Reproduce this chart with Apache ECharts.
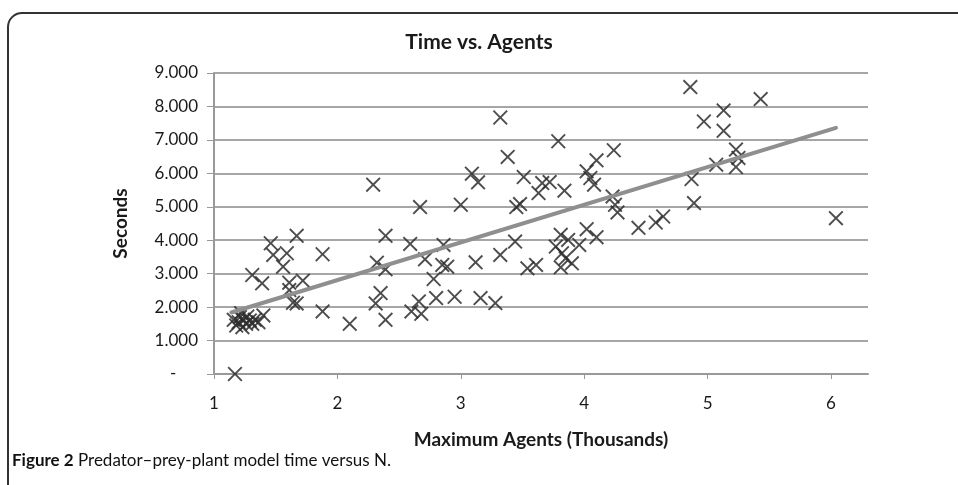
<!DOCTYPE html>
<html>
<head>
<meta charset="utf-8">
<script src="https://cdn.jsdelivr.net/npm/echarts@6/dist/echarts.min.js"></script>
<style>
  html, body { margin: 0; padding: 0; background: #fff; }
</style>
</head>
<body>
<div id="chart" style="width: 958px; height: 485px;"></div>
<script>
// agents (thousands) vs seconds
const agents = [
  1.16, 1.18, 1.20, 1.21, 1.23, 1.24, 1.26, 1.27, 1.29, 1.31, 1.33, 1.36, 1.40, 1.22,
  1.17,
  1.31, 1.39, 1.46, 1.48, 1.56, 1.59, 1.61, 1.61, 1.64, 1.67, 1.67, 1.72, 1.88, 1.88,
  2.10, 2.29, 2.31, 2.32, 2.35, 2.39, 2.39, 2.39, 2.59, 2.60, 2.68, 2.66, 2.67, 2.71, 2.78, 2.80, 2.85, 2.86, 2.89, 2.95,
  3.00, 3.09, 3.14, 3.12, 3.16, 3.28, 3.32, 3.32, 3.38, 3.44, 3.45, 3.48, 3.51, 3.54, 3.61, 3.63, 3.66, 3.72, 3.77, 3.79,
  3.81, 3.81, 3.82, 3.84, 3.85, 3.87, 3.90, 3.96, 4.02, 4.02, 4.05, 4.10, 4.08, 4.10, 4.23, 4.25, 4.27, 4.24,
  4.44, 4.58, 4.64, 4.86, 4.87, 4.89, 4.97, 5.07, 5.13, 5.13, 5.23, 5.25, 5.23, 5.43, 6.04
];
const seconds = [
  1.62, 1.45, 1.55, 1.70, 1.40, 1.62, 1.50, 1.72, 1.60, 1.50, 1.62, 1.55, 1.75, 1.82,
  0.0,
  2.96, 2.71, 3.91, 3.56, 3.21, 3.61, 2.73, 2.51, 2.13, 2.11, 4.13, 2.79, 3.58, 1.87,
  1.50, 5.66, 2.11, 3.33, 2.42, 4.13, 3.13, 1.62, 3.89, 1.87, 1.80, 2.17, 4.99, 3.43, 2.84, 2.27, 3.26, 3.86, 3.21, 2.31,
  5.06, 5.99, 5.73, 3.34, 2.27, 2.12, 7.67, 3.56, 6.49, 3.96, 4.99, 5.08, 5.89, 3.16, 3.26, 5.41, 5.71, 5.74, 3.81, 6.96,
  4.16, 3.19, 3.61, 5.48, 3.46, 4.01, 3.31, 3.86, 6.06, 4.33, 5.86, 6.39, 5.66, 4.09, 5.31, 5.06, 4.83, 6.69,
  4.37, 4.53, 4.71, 8.58, 5.83, 5.11, 7.55, 6.26, 7.88, 7.27, 6.71, 6.46, 6.19, 8.22, 4.66
];
// linear trend line end points
const trendX = [1.14, 6.04];
const trendY = [1.84, 7.36];
const xTicks = [1, 2, 3, 4, 5, 6];

const points = agents.map((a, i) => [a, seconds[i]]);
const trend = trendX.map((a, i) => [a, trendY[i]]);

const cross = 'path://M0,0.9L0.9,0L5,4.1L9.1,0L10,0.9L5.9,5L10,9.1L9.1,10L5,5.9L0.9,10L0,9.1L4.1,5Z';
const font = 'Lato, "Open Sans", sans-serif';

const chart = echarts.init(document.getElementById('chart'));
chart.setOption({
  animation: false,
  title: {
    text: 'Time vs. Agents',
    left: 'center',
    top: 27,
    textStyle: { fontFamily: font, fontSize: 21, fontWeight: 'bold', color: '#1a1a1a' }
  },
  grid: { left: 214, top: 73, right: 90, bottom: 111 },
  xAxis: {
    type: 'value',
    min: 1,
    max: 6.3,
    interval: 1,
    name: 'Maximum Agents (Thousands)',
    nameLocation: 'middle',
    nameGap: 56,
    nameTextStyle: { fontFamily: font, fontSize: 19, fontWeight: 'bold', color: '#1a1a1a' },
    axisLine: { lineStyle: { color: '#999', width: 2 } },
    axisTick: { show: true, length: 5, customValues: xTicks, lineStyle: { color: '#999' } },
    axisLabel: { customValues: xTicks, fontFamily: font, fontSize: 17, color: '#1a1a1a', margin: 21 },
    splitLine: { show: false }
  },
  yAxis: {
    type: 'value',
    min: 0,
    max: 9,
    interval: 1,
    name: 'Seconds',
    nameLocation: 'middle',
    nameGap: 84,
    nameTextStyle: { fontFamily: font, fontSize: 19, fontWeight: 'bold', color: '#1a1a1a' },
    axisLine: { show: true, lineStyle: { color: '#999', width: 2 } },
    axisTick: { show: true, length: 7, lineStyle: { color: '#999' } },
    axisLabel: {
      fontFamily: font, fontSize: 17, color: '#1a1a1a', margin: 16,
      formatter: v => v === 0 ? '-     ' : v + '.000'
    },
    splitLine: { show: true, lineStyle: { color: '#a6a6a6', width: 2 } }
  },
  series: [
    {
      type: 'scatter',
      data: points,
      symbol: cross,
      symbolSize: 15,
      itemStyle: { color: '#2e2e2e', opacity: 0.85 },
      z: 2
    },
    {
      type: 'line',
      data: trend,
      symbol: 'none',
      lineStyle: { color: '#8f8f8f', width: 4, cap: 'round' },
      z: 3
    }
  ],
  graphic: [
    {
      type: 'rect',
      shape: { x: 8, y: 13, width: 1000, height: 520, r: 14 },
      style: { fill: 'none', stroke: '#333', lineWidth: 2 },
      silent: true
    },
    {
      type: 'text',
      left: 12,
      top: 452,
      style: {
        text: '{b|Figure 2} Predator\u2013prey-plant model time versus N.',
        rich: {
          b: { fontFamily: font, fontSize: 17, fontWeight: 'bold', fill: '#111' }
        },
        fontFamily: font,
        fontSize: 17,
        fill: '#111'
      }
    }
  ]
});
</script>
</body>
</html>
